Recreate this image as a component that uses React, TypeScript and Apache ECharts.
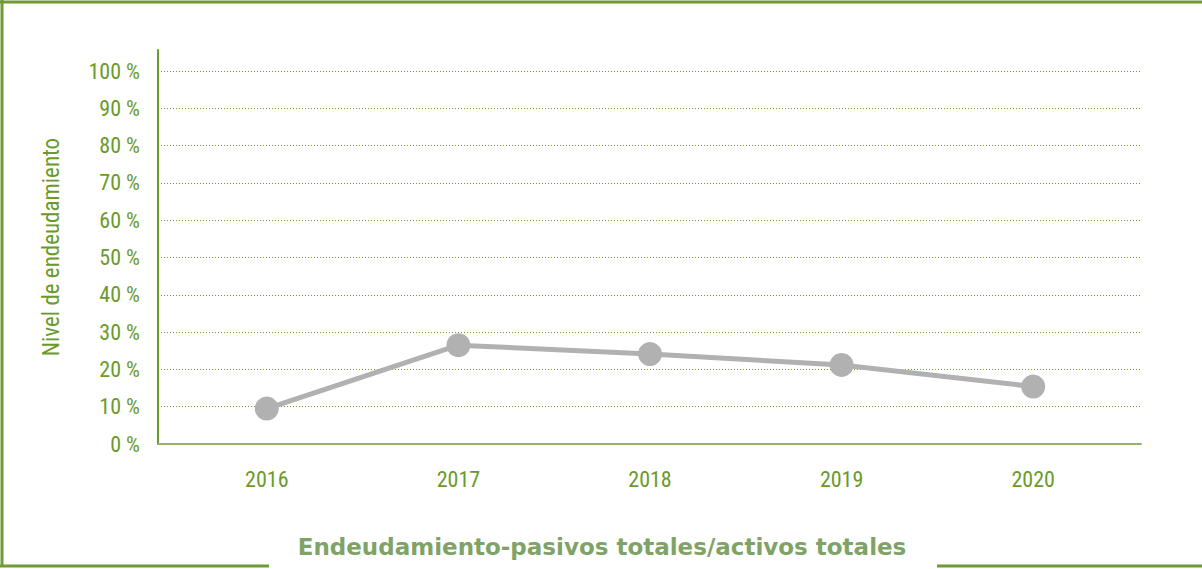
import React, { useEffect, useRef } from "react";
import * as echarts from "echarts";

const years = ["2016", "2017", "2018", "2019", "2020"];
const leverage = [9.5, 26.5, 24.1, 21.2, 15.4];
const yTicks = [0, 10, 20, 30, 40, 50, 60, 70, 80, 90, 100];

const GREEN = "#6a9a2a";
const FRAME = "#6f9a35";
const AXIS_LIGHT = "#94b46a";
const TITLE_GREEN = "#7fa366";
const GRAY = "#b1b1b1";
const FONT = "'Roboto Condensed', 'Liberation Sans Narrow', 'Arial Narrow', 'DejaVu Sans Condensed', sans-serif";

export default function App() {
  const ref = useRef<HTMLDivElement>(null);
  useEffect(() => {
    if (!ref.current) return;
    const chart = echarts.init(ref.current, undefined, { renderer: "svg" });
    const yMax = yTicks[yTicks.length - 1];
    chart.setOption({
      animation: false,
      backgroundColor: "#ffffff",
      grid: [
        { left: 158, right: 61, top: 71, bottom: 125 },
        { left: 171, right: 73, top: 50, bottom: 125 },
      ],
      xAxis: [
        {
          gridIndex: 0,
          type: "category",
          data: years,
          offset: 3,
          axisLine: { show: true, lineStyle: { color: AXIS_LIGHT, width: 2 } },
          axisTick: { show: false },
          axisLabel: { show: false },
          splitLine: { show: false },
        },
        {
          gridIndex: 1,
          type: "category",
          data: years,
          axisLine: { show: false },
          axisTick: { show: false },
          axisLabel: {
            color: GREEN,
            fontFamily: FONT,
            fontSize: 22,
            margin: 24,
          },
        },
      ],
      yAxis: [
        {
          gridIndex: 0,
          type: "value",
          min: 0,
          max: yMax,
          interval: 10,
          axisLine: { show: false },
          axisTick: { show: false },
          axisLabel: {
            color: GREEN,
            fontFamily: FONT,
            fontSize: 22,
            margin: 18,
            formatter: (v: number) => `${v} %`,
          },
          splitLine: {
            show: true,
            lineStyle: { color: GREEN, type: [1, 2], width: 1 },
          },
        },
        {
          gridIndex: 1,
          type: "value",
          min: 0,
          max: yMax * 1.0563,
          offset: 13,
          name: "Nivel de endeudamiento",
          nameLocation: "middle",
          nameGap: 95,
          nameRotate: 90,
          nameTextStyle: { color: GREEN, fontFamily: FONT, fontSize: 23 },
          axisLine: { show: true, lineStyle: { color: GREEN, width: 2 } },
          axisTick: { show: false },
          axisLabel: { show: false },
          splitLine: { show: false },
        },
      ],
      series: [
        {
          type: "line",
          xAxisIndex: 1,
          yAxisIndex: 1,
          data: leverage,
          symbol: "circle",
          symbolSize: 24,
          lineStyle: { color: GRAY, width: 5 },
          itemStyle: { color: GRAY },
        },
      ],
      graphic: [
        { type: "line", shape: { x1: 0, y1: 2, x2: 1202, y2: 2 }, style: { stroke: FRAME, lineWidth: 3 } },
        { type: "line", shape: { x1: 2, y1: 0, x2: 2, y2: 567 }, style: { stroke: FRAME, lineWidth: 3 } },
        { type: "line", shape: { x1: 0, y1: 566, x2: 269, y2: 566 }, style: { stroke: FRAME, lineWidth: 3 } },
        { type: "line", shape: { x1: 937, y1: 566, x2: 1202, y2: 566 }, style: { stroke: FRAME, lineWidth: 3 } },
        {
          type: "text",
          x: 602,
          y: 547,
          style: {
            text: "Endeudamiento-pasivos totales/activos totales",
            fill: TITLE_GREEN,
            font: "bold 23px 'DejaVu Sans', sans-serif",
            align: "center",
            verticalAlign: "middle",
          },
        },
      ],
    });
    return () => chart.dispose();
  }, []);
  return (
    <div
      ref={ref}
      style={{ position: "fixed", left: 0, top: 0, width: 1202, height: 569 }}
    />
  );
}
